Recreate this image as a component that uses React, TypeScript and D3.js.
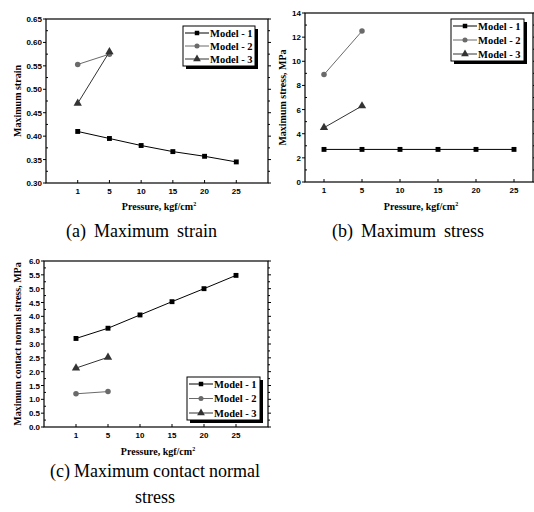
import React, { useEffect, useRef } from "react";
import * as d3 from "d3";

// shared categories
const pressures = ["1", "5", "10", "15", "20", "25"];
const modelNames = ["Model - 1", "Model - 2", "Model - 3"];
const modelColors = ["#000000", "#6a6a6a", "#333333"];
const modelSymbols = [d3.symbolSquare, d3.symbolCircle, d3.symbolTriangle];

// (a) maximum strain
const strainModel1 = [0.41, 0.395, 0.38, 0.367, 0.357, 0.345];
const strainModel2 = [0.553, 0.575];
const strainModel3 = [0.47, 0.58];
const strainTicks = [0.3, 0.35, 0.4, 0.45, 0.5, 0.55, 0.6, 0.65];

// (b) maximum stress
const stressModel1 = [2.7, 2.7, 2.7, 2.7, 2.7, 2.7];
const stressModel2 = [8.9, 12.5];
const stressModel3 = [4.5, 6.3];
const stressTicks = [0, 2, 4, 6, 8, 10, 12, 14];

// (c) maximum contact normal stress
const contactModel1 = [3.2, 3.57, 4.05, 4.53, 5.0, 5.48];
const contactModel2 = [1.2, 1.28];
const contactModel3 = [2.13, 2.52];
const contactTicks = [0, 0.5, 1, 1.5, 2, 2.5, 3, 3.5, 4, 4.5, 5, 5.5, 6];

const serif = "'Liberation Serif', 'Times New Roman', serif";
const sans = "'Liberation Sans', Arial, sans-serif";

const panels = [
    {
        series: [strainModel1, strainModel2, strainModel3],
        ticks: strainTicks,
        fmt: d3.format(".2f"),
        box: { left: 46, right: 268, top: 19, bottom: 183 },
        xPad: 1,
        yLabel: "Maximum strain",
        yLabelX: 21,
        xLabelY: 210,
        caption: [{ text: "(a) Maximum strain", x0: 60, x1: 223, y: 237 }],
        legend: { x: 183, y: 26, w: 72, h: 40 },
    },
    {
        series: [stressModel1, stressModel2, stressModel3],
        ticks: stressTicks,
        fmt: d3.format("d"),
        box: { left: 305, right: 533, top: 13, bottom: 182 },
        xPad: 0.5,
        yLabel: "Maximum stress, MPa",
        yLabelX: 286,
        xLabelY: 210,
        caption: [{ text: "(b) Maximum stress", x0: 325, x1: 491, y: 237 }],
        legend: { x: 451, y: 19, w: 73, h: 42 },
    },
    {
        series: [contactModel1, contactModel2, contactModel3],
        ticks: contactTicks,
        fmt: d3.format(".1f"),
        box: { left: 44, right: 268, top: 261, bottom: 427 },
        xPad: 1,
        yLabel: "Maximum contact normal stress, MPa",
        yLabelX: 21,
        xLabelY: 455,
        caption: [
            { text: "(c) Maximum contact normal", x0: 50, x1: 260, y: 477 },
            { text: "stress", x0: 140, x1: 170, y: 503 },
        ],
        legend: { x: 187, y: 377, w: 73, h: 43 },
    },
];

const App = () => {
    const ref = useRef<SVGSVGElement | null>(null);

    useEffect(() => {
        const svg = d3.select(ref.current);
        svg.selectAll("*").remove();

        panels.forEach((p) => {
            const g = svg.append("g");
            const { left, right, top, bottom } = p.box;

            const x = d3.scalePoint<string>().domain(pressures).range([left, right]).padding(p.xPad);
            const y = d3
                .scaleLinear()
                .domain([p.ticks[0], p.ticks[p.ticks.length - 1]])
                .range([bottom, top]);

            const minor = p.ticks.slice(1).map((t, i) => (t + p.ticks[i]) / 2);

            // left axis
            g.selectAll(".ytick")
                .data(p.ticks)
                .enter()
                .append("line")
                .attr("x1", left - 3)
                .attr("x2", left)
                .attr("y1", (d) => y(d))
                .attr("y2", (d) => y(d))
                .attr("stroke", "#000");
            g.selectAll(".yminor")
                .data(minor)
                .enter()
                .append("line")
                .attr("x1", left)
                .attr("x2", left + 2)
                .attr("y1", (d) => y(d))
                .attr("y2", (d) => y(d))
                .attr("stroke", "#000");
            g.selectAll(".ylab")
                .data(p.ticks)
                .enter()
                .append("text")
                .attr("x", left - 4)
                .attr("y", (d) => y(d) + 3)
                .attr("text-anchor", "end")
                .attr("font-family", sans)
                .attr("font-weight", "bold")
                .attr("font-size", 8)
                .text((d) => p.fmt(d));

            // right axis ticks
            g.selectAll(".rtick")
                .data(p.ticks.concat(minor))
                .enter()
                .append("line")
                .attr("x1", right)
                .attr("x2", (d, i) => (i < p.ticks.length ? right + 3 : right + 2))
                .attr("y1", (d) => y(d))
                .attr("y2", (d) => y(d))
                .attr("stroke", "#000");

            // bottom axis
            g.selectAll(".xtick")
                .data(pressures)
                .enter()
                .append("line")
                .attr("x1", (d) => x(d)!)
                .attr("x2", (d) => x(d)!)
                .attr("y1", bottom)
                .attr("y2", bottom - 3)
                .attr("stroke", "#000");
            g.selectAll(".xlab")
                .data(pressures)
                .enter()
                .append("text")
                .attr("x", (d) => x(d)!)
                .attr("y", bottom + 11)
                .attr("text-anchor", "middle")
                .attr("font-family", sans)
                .attr("font-weight", "bold")
                .attr("font-size", 8)
                .text((d) => d);

            // frame
            g.append("rect")
                .attr("x", left)
                .attr("y", top)
                .attr("width", right - left)
                .attr("height", bottom - top)
                .attr("fill", "none")
                .attr("stroke", "#000")
                .attr("stroke-width", 1.2);

            // series
            const line = d3
                .line<number>()
                .x((d, i) => x(pressures[i])!)
                .y((d) => y(d));

            p.series.forEach((vals, s) => {
                g.append("path")
                    .datum(vals)
                    .attr("d", line)
                    .attr("fill", "none")
                    .attr("stroke", modelColors[s])
                    .attr("stroke-width", 1);
                g.selectAll(`.m${s}`)
                    .data(vals)
                    .enter()
                    .append("path")
                    .attr("transform", (d, i) => `translate(${x(pressures[i])},${y(d)})`)
                    .attr("d", d3.symbol().type(modelSymbols[s]).size(s === 2 ? 30 : 24)())
                    .attr("fill", modelColors[s]);
            });

            // legend
            const L = p.legend;
            g.append("rect")
                .attr("x", L.x + 3)
                .attr("y", L.y + 3)
                .attr("width", L.w)
                .attr("height", L.h)
                .attr("fill", "#000");
            g.append("rect")
                .attr("x", L.x)
                .attr("y", L.y)
                .attr("width", L.w)
                .attr("height", L.h)
                .attr("fill", "#fff")
                .attr("stroke", "#000")
                .attr("stroke-width", 1);
            const rowGap = (L.h - 14) / 2;
            modelNames.forEach((name, s) => {
                const ry = L.y + 7 + s * rowGap;
                g.append("line")
                    .attr("x1", L.x + 2)
                    .attr("x2", L.x + 26)
                    .attr("y1", ry)
                    .attr("y2", ry)
                    .attr("stroke", modelColors[s]);
                g.append("path")
                    .attr("transform", `translate(${L.x + 14},${ry})`)
                    .attr("d", d3.symbol().type(modelSymbols[s]).size(s === 2 ? 26 : 20)())
                    .attr("fill", modelColors[s]);
                g.append("text")
                    .attr("x", L.x + 27)
                    .attr("y", ry + 3.5)
                    .attr("font-family", serif)
                    .attr("font-weight", "bold")
                    .attr("font-size", 10.5)
                    .text(name);
            });

            // axis titles
            const cy = (top + bottom) / 2;
            g.append("text")
                .attr("transform", `translate(${p.yLabelX},${cy}) rotate(-90)`)
                .attr("text-anchor", "middle")
                .attr("font-family", serif)
                .attr("font-weight", "bold")
                .attr("font-size", 10)
                .text(p.yLabel);

            const xt = g
                .append("text")
                .attr("x", (left + right) / 2 + 2)
                .attr("y", p.xLabelY)
                .attr("text-anchor", "middle")
                .attr("font-family", serif)
                .attr("font-weight", "bold")
                .attr("font-size", 10);
            xt.append("tspan").text("Pressure, kgf/cm");
            xt.append("tspan").attr("dy", -4).attr("font-size", 6).text("2");

            // caption: words spaced like the justified original, centred on the span
            p.caption.forEach((c) => {
                const words = c.text.split(" ");
                const nodes = words.map((w) =>
                    g
                        .append("text")
                        .attr("y", c.y)
                        .attr("font-family", serif)
                        .attr("font-size", 18)
                        .text(w)
                );
                const widths = nodes.map((n) => (n.node() as SVGTextElement).getComputedTextLength());
                const total = d3.sum(widths);
                const n = words.length;
                const gap = n > 1 ? Math.min(8, (c.x1 - c.x0 - total) / (n - 1)) : 0;
                const span = total + gap * (n - 1);
                let cx = (c.x0 + c.x1) / 2 - span / 2;
                nodes.forEach((node, i) => {
                    node.attr("x", cx);
                    cx += widths[i] + gap;
                });
            });
        });
    }, []);

    return (
        <svg
            ref={ref}
            width={534}
            height={512}
            style={{ position: "absolute", left: 0, top: 0, background: "#fff" }}
        />
    );
};

export default App;
